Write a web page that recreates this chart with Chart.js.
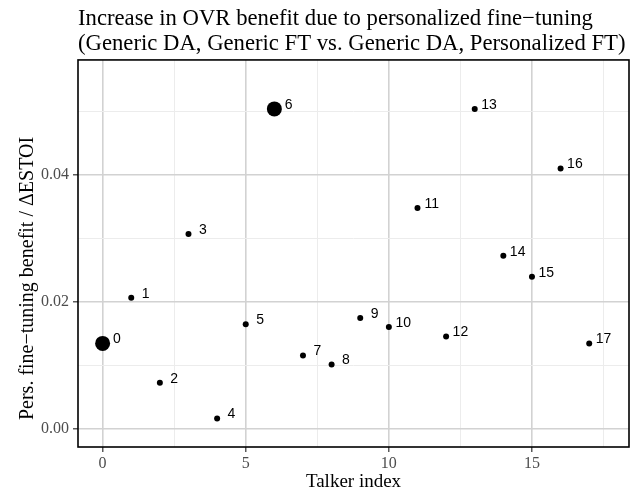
<!DOCTYPE html>
<html>
<head>
<meta charset="utf-8">
<script src="https://cdn.jsdelivr.net/npm/chart.js@4/dist/chart.umd.min.js"></script>
<style>
    body { margin: 0; background: #ffffff; }
    canvas { display: block; }
</style>
</head>
<body>
<canvas id="benefitChart" width="641" height="497"></canvas>
<script>
// talker index and the benefit of personalized fine-tuning (delta ESTOI)
const talkers = [0, 1, 2, 3, 4, 5, 6, 7, 8, 9, 10, 11, 12, 13, 14, 15, 16, 17];
const benefits = [0.0135, 0.0207, 0.0073, 0.0307, 0.0017, 0.0165, 0.0504, 0.0116, 0.0102,
                  0.0175, 0.0161, 0.0348, 0.0146, 0.0504, 0.0273, 0.0240, 0.0410, 0.0135];
// talkers drawn with a bigger dot
const highlighted = [0, 6];

const xTicks = [0, 5, 10, 15];
const xTickLabels = ["0", "5", "10", "15"];
const xMinorTicks = [2.5, 7.5, 12.5, 17.5];
const yTicks = [0, 0.02, 0.04];
const yTickLabels = ["0.00", "0.02", "0.04"];
const yMinorTicks = [0.01, 0.03, 0.05];

const titleLines = [
    "Increase in OVR benefit due to personalized fine\u2212tuning",
    "(Generic DA, Generic FT vs. Generic DA, Personalized FT)"
];
const xTitle = "Talker index";
const yTitle = "Pers. fine\u2212tuning benefit / \u0394ESTOI";

const serif = "'Liberation Serif', 'Times New Roman', serif";
const sans = "'Liberation Sans', Arial, sans-serif";

function gridColor(major) {
    return ctx => (ctx.tick && major.includes(ctx.tick.value)) ? "#d2d2d2" : "#ececec";
}

function gridWidth(major) {
    return ctx => (ctx.tick && major.includes(ctx.tick.value)) ? 1.6 : 1;
}

function tickColor(major) {
    return ctx => (ctx.tick && major.includes(ctx.tick.value)) ? "#333333" : "rgba(0,0,0,0)";
}

// panel border like ggplot's theme_bw
const panelBorder = {
    id: "panelBorder",
    afterDraw(chart) {
        const a = chart.chartArea;
        const ctx = chart.ctx;
        ctx.save();
        ctx.strokeStyle = "#000000";
        ctx.lineWidth = 1.6;
        ctx.strokeRect(a.left, a.top, a.right - a.left, a.bottom - a.top);
        ctx.restore();
    }
};

// y axis title, centred on the area below the main title
const yAxisTitle = {
    id: "yAxisTitle",
    afterDraw(chart) {
        const ctx = chart.ctx;
        const a = chart.chartArea;
        ctx.save();
        ctx.translate(28, (a.top + chart.height) / 2);
        ctx.rotate(-Math.PI / 2);
        ctx.font = "20px " + serif;
        ctx.fillStyle = "#000000";
        ctx.textAlign = "center";
        ctx.textBaseline = "middle";
        ctx.fillText(yTitle, 0, 0);
        ctx.restore();
    }
};

// talker number next to each dot
const pointLabels = {
    id: "pointLabels",
    afterDatasetsDraw(chart) {
        const ctx = chart.ctx;
        const xs = chart.scales.x;
        const ys = chart.scales.y;
        ctx.save();
        ctx.font = "14px " + sans;
        ctx.fillStyle = "#000000";
        ctx.textAlign = "center";
        ctx.textBaseline = "middle";
        talkers.forEach((t, i) => {
            ctx.fillText(String(t), xs.getPixelForValue(t + 0.5), ys.getPixelForValue(benefits[i]) - 4);
        });
        ctx.restore();
    }
};

const points = talkers.map((t, i) => ({ x: t, y: benefits[i] }));

new Chart(document.getElementById("benefitChart"), {
    type: "scatter",
    data: {
        datasets: [{
            data: points,
            backgroundColor: "#000000",
            borderWidth: 0,
            pointRadius: ctx => highlighted.includes(ctx.raw.x) ? 7.5 : 3,
            pointHoverRadius: ctx => highlighted.includes(ctx.raw.x) ? 7.5 : 3
        }]
    },
    options: {
        responsive: false,
        devicePixelRatio: 1,
        animation: false,
        events: [],
        layout: {
            padding: { left: 0, right: 12, top: 0, bottom: 0 }
        },
        plugins: {
            legend: { display: false },
            tooltip: { enabled: false },
            title: {
                display: true,
                text: titleLines,
                align: "start",
                fullSize: false,
                color: "#000000",
                font: { family: serif, size: 22.7, weight: "normal", lineHeight: 1.1 },
                padding: { top: 7, bottom: 3 }
            }
        },
        scales: {
            x: {
                type: "linear",
                min: -0.86,
                max: 18.39,
                afterBuildTicks: scale => {
                    scale.ticks = xTicks.concat(xMinorTicks).sort((a, b) => a - b).map(v => ({ value: v }));
                },
                afterFit: scale => { scale.height = 50; },
                ticks: {
                    autoSkip: false,
                    maxRotation: 0,
                    padding: 2,
                    color: "#4d4d4d",
                    font: { family: serif, size: 16 },
                    callback: value => {
                        const k = xTicks.indexOf(value);
                        return k >= 0 ? xTickLabels[k] : "";
                    }
                },
                grid: {
                    color: gridColor(xTicks),
                    lineWidth: gridWidth(xTicks),
                    tickColor: tickColor(xTicks),
                    tickLength: 5,
                    tickWidth: 1.2
                },
                border: { display: false },
                title: {
                    display: true,
                    text: xTitle,
                    color: "#000000",
                    font: { family: serif, size: 19 },
                    padding: { top: 0, bottom: 3.5 }
                }
            },
            y: {
                type: "linear",
                min: -0.0028,
                max: 0.0581,
                afterBuildTicks: scale => {
                    scale.ticks = yTicks.concat(yMinorTicks).sort((a, b) => a - b).map(v => ({ value: v }));
                },
                afterFit: scale => { scale.width = 78; },
                ticks: {
                    autoSkip: false,
                    padding: 4,
                    color: "#4d4d4d",
                    font: { family: serif, size: 16 },
                    callback: value => {
                        const k = yTicks.indexOf(value);
                        return k >= 0 ? yTickLabels[k] : "";
                    }
                },
                grid: {
                    color: gridColor(yTicks),
                    lineWidth: gridWidth(yTicks),
                    tickColor: tickColor(yTicks),
                    tickLength: 5,
                    tickWidth: 1.2
                },
                border: { display: false }
            }
        }
    },
    plugins: [panelBorder, yAxisTitle, pointLabels]
});
</script>
</body>
</html>
